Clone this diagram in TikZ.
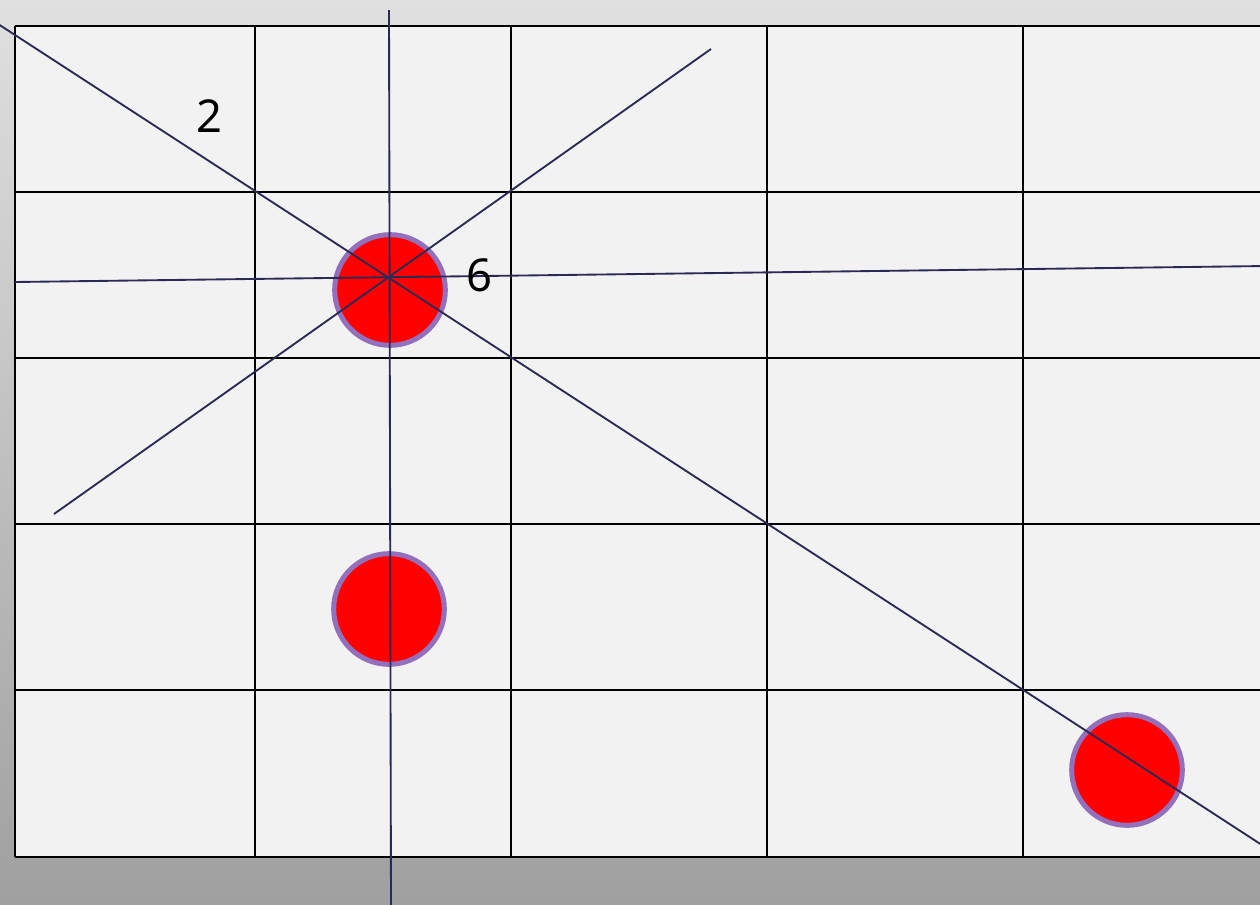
\documentclass[tikz,border=0pt]{standalone}
\usepackage{fontspec}
\setmainfont{Noto Sans}
\definecolor{cellfill}{HTML}{F2F2F2}
\definecolor{navyline}{HTML}{2A2A55}
\definecolor{ringpurple}{HTML}{9370BB}
\definecolor{bgtop}{HTML}{E0E0E0}
\definecolor{bgbot}{HTML}{A0A0A0}
\tikzset{
  gridline/.style={black, line width=1.9pt},
  ray/.style={navyline, line width=1.4pt},
  dot/.style={circle, fill=red, draw=ringpurple, line width=3.75pt, minimum size=83pt, inner sep=0pt},
  numlabel/.style={font=\fontsize{34}{40}\selectfont, inner sep=0pt, text=black}
}
\begin{document}
\begin{tikzpicture}[x=0.75pt, y=-0.75pt]
\useasboundingbox (0,0) rectangle (1260,904);
\clip (0,0) rectangle (1260,904);
% background
\shade[top color=bgtop, bottom color=bgbot] (0,0) rectangle (1260,904);
% grid
\fill[cellfill] (15,26) rectangle (1290,857);
\foreach \x in {15,255,511,767,1023}
  \draw[gridline] (\x,26) -- (\x,857);
\foreach \y in {26,192,358,524,690,857}
  \draw[gridline] (15,\y) -- (1290,\y);
% circles
\node[dot] (c1) at (390,290) {};
\node[dot] (c2) at (389,609) {};
\node[dot] (c3) at (1127,770) {};
% rays
\coordinate (a1) at (-5,22);
\coordinate (a2) at (1265,847);
\coordinate (b1) at (389,10);
\coordinate (b2) at (391,910);
\coordinate (d1) at (54,514);
\coordinate (d2) at (711,49);
\coordinate (e1) at (15,282);
\coordinate (e2) at (1265,266);
\draw[ray] (a1) -- (a2);
\draw[ray] (b1) -- (b2);
\draw[ray] (d1) -- (d2);
\draw[ray] (e1) -- (e2);
% labels
\node[numlabel] (n2) at (209,116) {2};
\node[numlabel] (n6) at (479,275) {6};
\end{tikzpicture}
\end{document}
